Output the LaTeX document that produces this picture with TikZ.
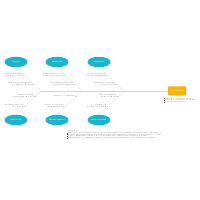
\documentclass[tikz,border=0pt]{standalone}
\usepackage{tikz}
\usetikzlibrary{shapes.geometric, arrows.meta, positioning, calc}
\definecolor{fbCyan}{HTML}{19B5CB}
\definecolor{fbOrange}{HTML}{FFB000}
\definecolor{fbLine}{HTML}{D4D4D4}
\definecolor{fbText}{HTML}{444444}
\newcommand{\fbsq}{\rule[0.4pt]{1.6pt}{1.6pt}\,}
\tikzset{
  cat/.style={ellipse, fill=fbCyan, text=white, font=\fontsize{5}{6}\selectfont\bfseries,
              minimum width=2.3cm, minimum height=1.05cm, inner sep=1pt, align=center},
  head/.style={rectangle, rounded corners=2pt, fill=fbOrange, text=white,
               font=\fontsize{5}{6}\selectfont\bfseries, minimum width=1.8cm, minimum height=0.9cm},
  cause/.style={font=\fontsize{4.5}{5.3}\selectfont, text=fbText, align=right, inner sep=1pt},
  bone/.style={draw=fbLine, line width=0.5pt},
  spine/.style={draw=fbLine, line width=1pt},
}

\begin{document}
\begin{tikzpicture}
  \useasboundingbox (0,0) rectangle (20,20);
  % categories
  \node[cat] (people) at (1.6,13.8) {People};
  \node[cat] (method) at (5.7,13.8) {Methods};
  \node[cat] (machine) at (9.9,13.8) {Machines};
  \node[cat] (material) at (1.6,8.0) {Materials};
  \node[cat] (measure) at (5.7,8.0) {Measurement};
  \node[cat] (environ) at (9.9,8.0) {Environment};
  % effect
  \node[head] (effect) at (17.7,10.9) {Low Quality};
  % spine
  \coordinate (j1) at (4.1,10.9);
  \coordinate (j2) at (8.2,10.9);
  \coordinate (j3) at (12.4,10.9);
  \draw[spine] (j1) -- (effect);
  % bones
  \foreach \c/\j in {people/j1, method/j2, machine/j3}
    \draw[bone] (\c.south) -- (\j);
  \foreach \c/\j in {material/j1, measure/j2, environ/j3}
    \draw[bone] (\c.north) -- (\j);
  % points on the bones
  \coordinate (p1a) at ($(people.south)!0.33!(j1)$);
  \coordinate (p1b) at ($(people.south)!0.71!(j1)$);
  \coordinate (p2a) at ($(method.south)!0.33!(j2)$);
  \coordinate (p2b) at ($(method.south)!0.71!(j2)$);
  \coordinate (p3a) at ($(machine.south)!0.33!(j3)$);
  \coordinate (p3b) at ($(machine.south)!0.71!(j3)$);
  \coordinate (q1a) at ($(material.north)!0.79!(j1)$);
  \coordinate (q1b) at ($(material.north)!0.37!(j1)$);
  \coordinate (q2a) at ($(measure.north)!0.79!(j2)$);
  \coordinate (q2b) at ($(measure.north)!0.37!(j2)$);
  \coordinate (q3a) at ($(environ.north)!0.79!(j3)$);
  \coordinate (q3b) at ($(environ.north)!0.37!(j3)$);
  % causes
  \node[cause, left=0.15cm of p1a] (c1a) {Staff lack training\\on new procedures};
  \node[cause, left=0.15cm of p1b] (c1b) {Rewards and recognition\\not linked to quality};
  \node[cause, left=0.15cm of p2a] (c2a) {Work instructions are\\unclear and outdated};
  \node[cause, left=0.15cm of p2b] (c2b) {No standard inspection\\step before shipping};
  \node[cause, left=0.15cm of p3a] (c3a) {Old machines need\\frequent adjustment};
  \node[cause, left=0.15cm of p3b] (c3b) {Maintenance schedule\\is not followed};
  \node[cause, left=0.15cm of q1a] (d1a) {Suppliers change\\grades without notice};
  \node[cause, left=0.15cm of q1b] (d1b) {Incoming parts are\\not checked};
  \node[cause, left=0.15cm of q2a] (d2a) {Gauges not calibrated};
  \node[cause, left=0.15cm of q2b] (d2b) {Defects recorded late\\and without detail};
  \node[cause, left=0.15cm of q3a] (d3a) {Dust and humidity\\in the work area};
  \node[cause, left=0.15cm of q3b] (d3b) {Poor lighting at\\the inspection bench};
  \foreach \n/\p in {c1a/p1a, c1b/p1b, c2a/p2a, c2b/p2b, c3a/p3a, c3b/p3b,
                     d1a/q1a, d1b/q1b, d2a/q2a, d2b/q2b, d3a/q3a, d3b/q3b}
    \draw[bone] (\n.east) -- (\p);
  % effect notes
  \node[cause, align=left, anchor=north west] (enote) at (16.4,10.25)
    {\fbsq Customer complaints up 12\%\\\fbsq Rework costs rising each month\\\fbsq Delivery dates missed};
  % notes
  \node[cause, align=left, anchor=north west, text width=10.8cm] (notes) at (6.7,7.05)
    {Action Plan\\[1pt]
     \fbsq Run a refresher training course for all operators and record attendance before the end of the quarter.\\
     \fbsq Rewrite the work instructions with photos and add a final inspection step to the standard procedure.\\
     \fbsq Agree a maintenance plan for the old machines and calibrate every gauge each month.\\
     \fbsq Ask suppliers to confirm any change of material and check samples of incoming parts on arrival.};
\end{tikzpicture}
\end{document}
